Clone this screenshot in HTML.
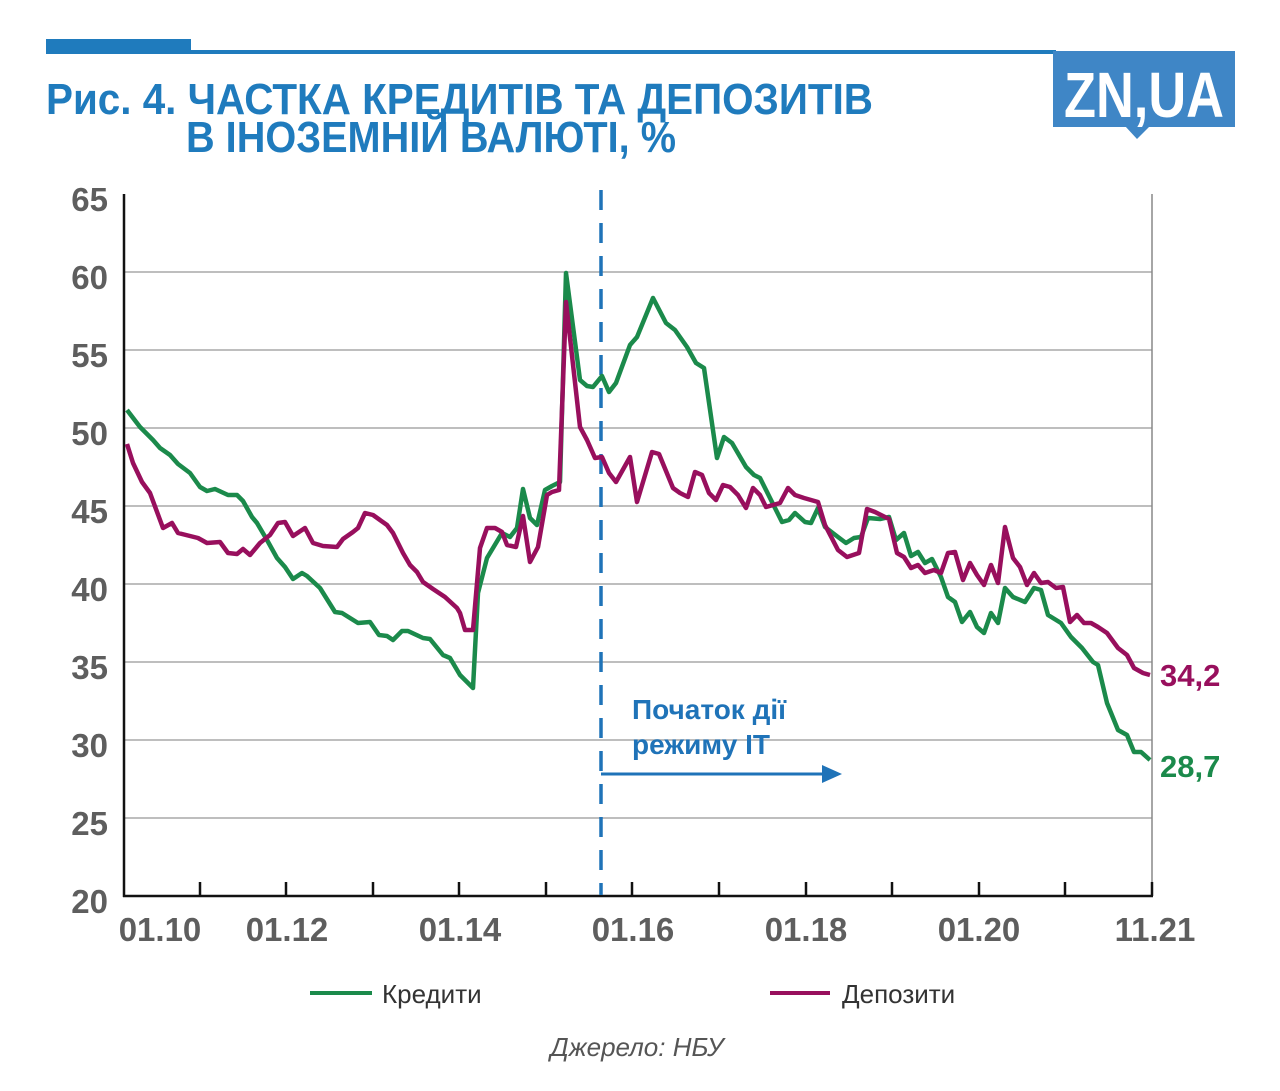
<!DOCTYPE html>
<html><head><meta charset="utf-8"><style>
html,body{margin:0;padding:0;background:#fff;}
svg{display:block;}
text{font-family:"Liberation Sans",sans-serif;}
</style></head><body>
<svg width="1280" height="1091" viewBox="0 0 1280 1091" xmlns="http://www.w3.org/2000/svg">
<rect x="46" y="39" width="145" height="15" fill="#1f7bbd"/>
<rect x="46" y="50" width="1010" height="4" fill="#1f7bbd"/>
<rect x="1053" y="51" width="182" height="76" fill="#3f86c6"/>
<polygon points="1125,126 1150,126 1137,139" fill="#3f86c6"/>
<text x="1144" y="117" font-size="64" font-weight="bold" fill="#fff" text-anchor="middle" textLength="160" lengthAdjust="spacingAndGlyphs">ZN,UA</text>
<text x="46" y="114" font-size="44" font-weight="bold" fill="#1f7bbd" textLength="827" lengthAdjust="spacingAndGlyphs">Рис. 4. ЧАСТКА КРЕДИТІВ ТА ДЕПОЗИТІВ</text>
<text x="186" y="152" font-size="44" font-weight="bold" fill="#1f7bbd" textLength="490" lengthAdjust="spacingAndGlyphs">В ІНОЗЕМНІЙ ВАЛЮТІ, %</text>
<g stroke="#a8a8a8" stroke-width="1.5">
<line x1="124" y1="272" x2="1152" y2="272"/>
<line x1="124" y1="350" x2="1152" y2="350"/>
<line x1="124" y1="428" x2="1152" y2="428"/>
<line x1="124" y1="506" x2="1152" y2="506"/>
<line x1="124" y1="584" x2="1152" y2="584"/>
<line x1="124" y1="662" x2="1152" y2="662"/>
<line x1="124" y1="740" x2="1152" y2="740"/>
<line x1="124" y1="818" x2="1152" y2="818"/>
</g>
<line x1="1152" y1="194" x2="1152" y2="896" stroke="#888" stroke-width="1.5"/>
<g stroke="#111" stroke-width="2.5">
<line x1="124" y1="194" x2="124" y2="897"/>
<line x1="123" y1="896" x2="1153" y2="896"/>
<line x1="200" y1="882" x2="200" y2="896"/><line x1="286" y1="882" x2="286" y2="896"/>
<line x1="373" y1="882" x2="373" y2="896"/><line x1="459" y1="882" x2="459" y2="896"/>
<line x1="546" y1="882" x2="546" y2="896"/><line x1="632" y1="882" x2="632" y2="896"/>
<line x1="719" y1="882" x2="719" y2="896"/><line x1="806" y1="882" x2="806" y2="896"/>
<line x1="892" y1="882" x2="892" y2="896"/><line x1="979" y1="882" x2="979" y2="896"/>
<line x1="1065" y1="882" x2="1065" y2="896"/><line x1="1152" y1="882" x2="1152" y2="896"/>
</g>
<g font-size="33" font-weight="bold" fill="#5e5e5e" text-anchor="end">
<text x="108" y="211">65</text><text x="108" y="289">60</text><text x="108" y="367">55</text>
<text x="108" y="445">50</text><text x="108" y="523">45</text><text x="108" y="601">40</text>
<text x="108" y="679">35</text><text x="108" y="757">30</text><text x="108" y="835">25</text>
<text x="108" y="913">20</text>
</g>
<g font-size="33" font-weight="bold" fill="#5e5e5e" text-anchor="middle">
<text x="160" y="941">01.10</text><text x="287" y="941">01.12</text><text x="460" y="941">01.14</text>
<text x="633" y="941">01.16</text><text x="806" y="941">01.18</text><text x="979" y="941">01.20</text>
<text x="1155" y="941">11.21</text>
</g>
<line x1="601" y1="190" x2="601" y2="895" stroke="#1f73b8" stroke-width="3.5" stroke-dasharray="20,13"/>
<line x1="601" y1="774" x2="828" y2="774" stroke="#1f73b8" stroke-width="3"/>
<polygon points="822,765 842,774 822,783" fill="#1f73b8"/>
<text x="632" y="719" font-size="28" font-weight="bold" fill="#1f73b8">Початок дії</text>
<text x="632" y="754" font-size="28" font-weight="bold" fill="#1f73b8">режиму ІТ</text>
<polyline fill="none" stroke="#1b8a4b" stroke-width="4.5" stroke-linejoin="round" points="127,410 140,427 153,440 160,448 170,455 178,464 190,473 200,487 207,491 215,489 228,495 237,495 243,501 252,517 257,523 267,540 277,558 285,567 293,579 302,573 307,576 320,588 335,612 342,613 358,623 370,622 379,635 387,636 393,640 402,631 408,631 423,638 430,639 443,655 450,658 460,675 473,688 478,593 487,558 502,533 510,537 517,528 523,489 530,518 537,525 545,490 552,486 560,482 566,273 580,380 587,386 593,387 602,376 609,392 616,383 630,345 637,337 653,298 666,323 675,330 687,347 696,363 704,368 717,458 724,437 732,443 746,467 754,475 760,478 771,500 782,522 789,520 795,513 805,522 811,523 818,508 825,527 838,537 846,543 854,538 861,537 868,518 880,519 889,517 896,540 904,533 911,556 918,552 925,563 932,559 941,577 948,597 955,602 962,622 970,612 977,627 984,633 991,613 998,623 1005,588 1013,597 1025,602 1034,588 1041,590 1048,615 1061,623 1071,637 1082,648 1093,662 1098,665 1107,703 1118,730 1127,735 1134,752 1141,752 1150,760"/>
<polyline fill="none" stroke="#980f5d" stroke-width="4.5" stroke-linejoin="round" points="127,444 133,463 142,482 150,493 163,528 172,523 178,533 198,538 207,543 220,542 228,553 237,554 243,549 250,555 260,543 270,535 278,523 285,522 293,536 305,528 313,543 323,546 337,547 343,539 353,532 358,528 365,513 373,515 387,525 393,533 403,553 410,565 417,572 423,582 433,589 445,597 457,608 460,613 465,630 473,630 480,548 487,528 495,528 502,532 507,545 516,547 523,516 530,562 538,547 547,495 552,492 559,490 566,302 580,427 587,440 595,458 602,457 609,473 616,482 630,457 637,502 652,452 659,454 673,488 680,493 688,497 695,472 702,475 709,493 716,500 723,485 730,487 738,495 746,508 753,488 760,495 766,507 780,503 788,488 795,495 804,498 818,502 825,525 838,550 847,557 859,553 867,509 875,512 889,519 897,553 904,557 911,568 918,565 925,573 934,570 941,573 948,553 955,552 963,580 970,563 977,575 984,585 991,565 998,583 1005,527 1013,558 1020,567 1027,585 1034,573 1041,583 1048,582 1056,588 1063,587 1070,622 1077,615 1084,623 1091,623 1098,627 1107,633 1118,648 1127,655 1134,668 1143,673 1150,675"/>
<text x="1160" y="686" font-size="31" font-weight="bold" fill="#980f5d">34,2</text>
<text x="1160" y="777" font-size="31" font-weight="bold" fill="#1b8a4b">28,7</text>
<line x1="310" y1="993" x2="372" y2="993" stroke="#1b8a4b" stroke-width="4"/>
<text x="382" y="1003" font-size="26" fill="#333">Кредити</text>
<line x1="770" y1="993" x2="830" y2="993" stroke="#980f5d" stroke-width="4"/>
<text x="842" y="1003" font-size="26" fill="#333">Депозити</text>
<text x="637" y="1056" font-size="26" font-style="italic" fill="#555" text-anchor="middle">Джерело: НБУ</text>
</svg>
</body></html>
